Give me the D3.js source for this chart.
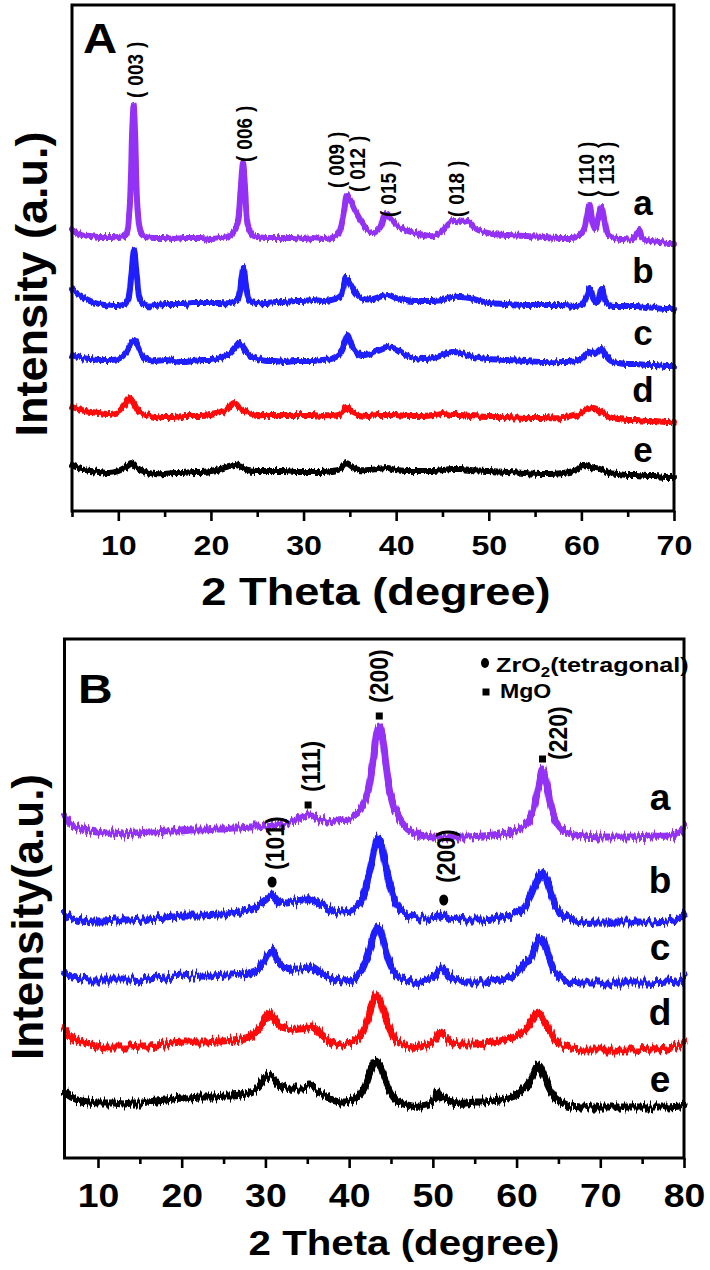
<!DOCTYPE html>
<html><head><meta charset="utf-8">
<script src="https://cdn.jsdelivr.net/npm/d3@7"></script>
<style>html,body{margin:0;padding:0;background:#fff}svg{display:block}</style>
</head><body><svg id="c" width="710" height="1270"></svg>
<script>
// ---------- Panel A data: [2theta, intensity (a.u.)] ----------
const A_a = [[5,281],[6,276],[7,275],[8,274],[9,274],[10,274],[10.8,276],[11.2,300],[11.5,380],[11.65,406],[11.8,380],[12.1,300],[12.5,277],[13,274],[14,273],[15,273],[16,272],[17,273],[18,273],[19,273],[20,272],[21,273],[22,275],[22.8,285],[23.2,320],[23.47,348],[23.7,320],[24,285],[24.5,276],[25,274],[26,273],[27,273],[28,273],[29,273],[30,272],[31,273],[32,272],[33,273],[33.8,278],[34.3,295],[34.7,316],[35.1,310],[35.6,300],[36.2,290],[36.8,282],[37.5,278],[38.3,284],[38.9,298],[39.5,292],[40.2,285],[41,281],[42,278],[43,276],[44,275],[45,280],[45.8,289],[46.5,290],[47.2,289],[47.8,290],[48.5,283],[49.5,279],[50.5,277],[52,276],[54,275],[56,274],[58,273],[59.5,274],[60.2,280],[60.6,296],[60.85,306],[61.2,290],[61.5,282],[61.8,292],[62.15,304],[62.5,290],[62.9,276],[63.5,273],[64.5,272],[65.5,272],[66,278],[66.25,281],[66.6,273],[67.5,270],[68.5,269],[69.5,268],[70,268]];
const A_b = [[5,221],[5.5,218],[6.5,212],[7.5,208],[8.5,206],[9.5,205],[10.5,206],[11,210],[11.4,235],[11.7,261],[12,235],[12.4,210],[13,206],[14,206],[15,207],[16,207],[17,207],[18,208],[19,208],[20,208],[21,208],[22,208],[22.9,212],[23.3,232],[23.5,243],[23.8,225],[24.2,210],[25,208],[26,208],[27,209],[28,209],[29,210],[30,210],[31,211],[32,210],[33,211],[34,215],[34.6,233],[35,228],[35.6,218],[36.5,212],[37.5,212],[38.5,215],[39.2,216],[40,213],[41,211],[42,210],[43,210],[44,210],[45,211],[46,214],[47,214],[48,213],[49,210],[50,208],[52,207],[54,206],[56,206],[58,206],[60,206],[60.6,215],[60.9,223],[61.3,212],[61.7,208],[62.2,223],[62.6,210],[63,206],[64,205],[65,205],[66,205],[67,204],[68,203],[69,202],[70,202]];
const A_c = [[5,156],[6,153],[7,152],[8,151],[9,151],[10,152],[10.8,158],[11.4,168],[11.7,171],[12.1,165],[12.6,155],[13.3,150],[14,150],[15,151],[16,150],[17,149],[18,150],[19,151],[20,151],[21,153],[22,157],[22.8,165],[23.1,168],[23.5,164],[24,157],[25,152],[26,150],[27,150],[28,149],[29,150],[30,150],[31,150],[32,151],[33,152],[34,158],[34.5,170],[34.75,176],[35.1,168],[35.6,160],[36.3,155],[37,156],[38,160],[39,163],[40,162],[41,156],[42,153],[43,152],[44,153],[45,156],[46,159],[47,158],[48,155],[49,153],[50,152],[52,151],[54,150],[56,149],[58,149],[59.5,150],[60.3,155],[60.8,160],[61.4,157],[62.1,163],[62.6,156],[63.2,150],[64,148],[65,147],[66,147],[67,146],[68,146],[69,145],[70,145]];
const A_d = [[5,104],[6,101],[7,99],[8,98],[9,97],[10,99],[10.6,105],[11.2,113],[11.7,107],[12.3,98],[13,96],[14,94],[15,94],[16,94],[17,95],[18,95],[19,95],[20,96],[21,98],[21.8,102],[22.5,108],[23.1,103],[23.8,99],[25,96],[26,96],[27,96],[28,96],[29,96],[30,96],[31,96],[32,95],[33,95],[34,97],[34.6,104],[35.2,99],[36,96],[37,95],[38,96],[39,96],[40,96],[41,95],[42,95],[43,95],[44,96],[45,98],[46,96],[47,96],[48,95],[50,94],[52,94],[54,93],[56,93],[58,93],[59.5,96],[60.5,101],[61.3,103],[62.2,99],[63,94],[64,92],[65,91],[66,91],[67,90],[68,90],[69,89],[70,89]];
const A_e = [[5,46],[6,42],[7,40],[8,39],[9,38],[10,40],[11,45],[11.4,48],[12,43],[13,39],[14,37],[15,37],[16,38],[17,38],[18,39],[19,39],[20,40],[21,42],[22,45],[22.6,46],[23.3,44],[24,41],[25,40],[26,40],[27,40],[28,40],[29,39],[30,39],[31,39],[32,39],[33,40],[34,42],[34.6,48],[35.3,44],[36,41],[37,41],[38,42],[39,43],[40,41],[41,40],[42,40],[43,40],[44,40],[45,41],[46,42],[47,42],[48,41],[50,40],[52,39],[54,38],[56,37],[58,38],[59.5,41],[60.2,46],[61,44],[62,42],[63,38],[64,37],[65,36],[66,36],[67,35],[68,35],[69,34],[70,34]];
const seriesNamesA = ["a","b","c","d","e"];
const peakLabelsA = ["003","006","009","012","015","018","110","113"];
const peakLabelXA = [11.9,23.6,33.6,35.8,39.2,46.5,60.6,62.7];
const peakLabelYA = [413,349,323,319,294,294,314,314];
const xTicksA = [10,20,30,40,50,60,70];
const xMinorA = [5,15,25,35,45,55,65];

// ---------- Panel B data ----------
const B_a = [[6,341],[7,332],[8,329],[9,327],[10,326],[11,325],[12,325],[13,324],[14,325],[15,325],[16,326],[17,326],[18,327],[19,327],[20,327],[21,328],[22,328],[23,328],[24,329],[25,329],[26,330],[27,330],[28,331],[29,331],[30,332],[31,333],[32,334],[33,336],[34,339],[35,343],[35.6,343],[36.5,338],[37.5,337],[38.5,338],[39.5,339],[40.5,342],[41.5,350],[42.3,370],[42.9,400],[43.3,425],[43.6,433],[43.9,425],[44.3,400],[44.8,370],[45.5,348],[46.5,333],[47.5,326],[48.5,323],[50,321],[52,321],[54,321],[56,322],[58,324],[59.5,326],[60.5,330],[61.5,337],[62.2,355],[62.7,375],[63.1,389],[63.5,378],[64,356],[64.7,337],[65.5,328],[66.5,324],[68,322],[70,321],[72,321],[74,321],[76,322],[78,322],[79.5,326],[80,331]];
const B_b = [[6,245],[7,240],[8,238],[9,237],[10,237],[11,237],[12,238],[13,238],[14,238],[15,239],[16,239],[17,240],[18,241],[19,242],[20,243],[21,243],[22,243],[23,243],[24,244],[25,244],[26,245],[27,246],[28,248],[29,252],[30,258],[30.8,263],[31.5,257],[32.5,255],[33.5,257],[34.5,258],[35.5,258],[36.5,255],[37.5,250],[38.5,246],[39.5,245],[40.5,248],[41.5,258],[42.3,280],[42.9,305],[43.4,320],[43.8,315],[44.3,295],[44.9,272],[45.6,255],[46.5,245],[47.5,241],[48.5,240],[49.5,240],[50.5,241],[51.3,243],[52,241],[53,239],[54,238],[55,238],[56,238],[57,239],[58,240],[59,242],[60,245],[61,252],[61.8,265],[62.5,280],[63,286],[63.5,280],[64.1,265],[64.8,250],[65.6,242],[66.5,238],[68,236],[70,236],[72,236],[74,236],[76,236],[78,237],[79.5,240],[80,244]];
const B_c = [[6,185],[7,181],[8,179],[9,178],[10,178],[11,178],[12,178],[13,178],[14,178],[15,178],[16,179],[17,180],[18,181],[19,182],[20,183],[21,182],[22,182],[23,182],[24,182],[25,183],[26,183],[27,184],[28,185],[29,188],[29.8,197],[30.4,206],[30.8,208],[31.3,200],[32,192],[33,189],[34,189],[35,190],[35.6,191],[36.5,186],[37.5,181],[38.5,178],[39.5,177],[40.5,179],[41.5,188],[42.3,205],[42.9,222],[43.4,231],[43.8,226],[44.3,210],[44.9,194],[45.6,183],[46.5,178],[47.5,176],[48.5,176],[49.5,178],[50.3,183],[51.1,190],[51.9,183],[52.8,178],[54,176],[55,176],[56,176],[57,177],[58,178],[59,180],[60,185],[61,195],[61.6,198],[62.2,210],[62.8,221],[63.3,216],[63.9,200],[64.6,186],[65.5,179],[66.5,176],[68,175],[70,175],[72,175],[74,175],[76,175],[78,176],[79.5,178],[80,181]];
const B_d = [[6,128],[7,120],[8,116],[9,113],[10,112],[11,111],[12,111],[13,111],[14,111],[15,112],[16,112],[17,113],[18,114],[19,115],[20,116],[21,116],[22,116],[23,116],[24,117],[25,117],[26,118],[27,119],[28,121],[29,127],[29.9,138],[30.5,145],[31.1,138],[32,131],[33,129],[34,129],[35,130],[35.6,131],[36.5,125],[37.5,118],[38.5,114],[39.5,113],[40.5,116],[41.5,124],[42.3,140],[42.8,155],[43.2,163],[43.7,157],[44.2,144],[44.9,128],[45.6,118],[46.5,113],[47.5,111],[48.5,111],[49.5,113],[50.3,118],[50.9,126],[51.6,120],[52.5,115],[54,114],[55,114],[56,115],[57,116],[58,117],[59,119],[60,122],[61,128],[61.8,137],[62.6,146],[63.2,140],[63.9,128],[64.7,117],[65.6,111],[66.5,109],[68,108],[70,108],[72,108],[74,108],[76,109],[78,110],[79.5,113],[80,115]];
const B_e = [[6,66],[7,60],[8,57],[9,56],[10,55],[11,55],[12,55],[13,54],[14,55],[15,55],[16,56],[17,57],[18,58],[19,59],[20,60],[21,60],[22,61],[23,61],[24,61],[25,62],[26,62],[27,63],[28,65],[29,70],[29.8,79],[30.3,83],[30.9,80],[31.6,74],[32.5,70],[33.5,70],[34.5,70],[35.3,71],[36,68],[37,63],[38,58],[39,56],[40,57],[41,61],[41.8,70],[42.5,86],[43.2,98],[43.7,92],[44.2,80],[44.9,66],[45.6,58],[46.5,54],[47.5,52],[48.5,52],[49.5,54],[50.3,60],[50.5,67],[50.8,60],[51.3,62],[52,57],[53,55],[54,55],[55,56],[56,56],[57,57],[58,58],[59,60],[60,63],[61,70],[61.8,80],[62.6,93],[63.2,84],[63.9,70],[64.6,60],[65.5,55],[66.5,52],[68,51],[70,51],[72,51],[74,51],[76,51],[78,51],[79.5,52],[80,53]];
const seriesNamesB = ["a","b","c","d","e"];
const peakLabelsB = ["(200)","(220)","(111)","(101)","(200)"];
const peakMarkB = ["sq","sq","sq","dot","dot"];
const peakMarkXB = [43.6,63.1,35.1,30.8,51.3];
const peakMarkYB = [442,399,353,276,258];
const peakLabelXB = [43.5,65.0,35.4,31.1,51.6];
const peakLabelYB = [455,398,366,288,275];
const legendB = ["ZrO|2|(tetragonal)","MgO"];
const xTicksB = [10,20,30,40,50,60,70,80];
const xMinorB = [15,25,35,45,55,65,75];

// ---------- drawing ----------
const svg = d3.select("#c");
const FONT = "'Liberation Sans', Arial, Helvetica, sans-serif";
const colorsA = ["#9332f5","#1e1eff","#1e1eff","#ff0a0a","#000000"];

const defs = svg.append("defs");
function noiseFilter(id, freq, scale, seed){
  const f = defs.append("filter").attr("id",id).attr("filterUnits","userSpaceOnUse")
    .attr("x",0).attr("y",0).attr("width",710).attr("height",1270)
    .attr("color-interpolation-filters","sRGB");
  f.append("feTurbulence").attr("type","fractalNoise").attr("baseFrequency",freq)
    .attr("numOctaves",2).attr("seed",seed).attr("result","t");
  const ct = f.append("feComponentTransfer").attr("in","t").attr("result","t2");
  ct.append("feFuncR").attr("type","linear").attr("slope",0).attr("intercept",0.5);
  f.append("feDisplacementMap").attr("in","SourceGraphic").attr("in2","t2")
    .attr("scale",scale).attr("xChannelSelector","R").attr("yChannelSelector","G");
}
noiseFilter("nA","0.45 0.03",7,4);
noiseFilter("nB","0.5 0.03",13,7);

function stxt(parent, x, y, s, size, sx, anchor, rot){
  const g = parent.append("g").attr("transform", `translate(${x},${y}) scale(${sx},1)` + (rot ? ` rotate(${rot})` : ""));
  return g.append("text").attr("font-family", FONT).attr("font-weight","bold")
    .attr("font-size", size).attr("text-anchor", anchor||"start").attr("fill","#000").text(s);
}

function panel(cfg){
  const {x, y, series, names, colors, lw, filt, ticks, minor, tickFont, tickSx, tickBase, letterX, letterBase, letterFont} = cfg;
  const g = svg.append("g");
  const line = d3.line().x(d=>x(d[0])).y(d=>y(d[1])).curve(d3.curveCatmullRom.alpha(0.5));
  const lg = g.append("g").attr("filter",`url(#${filt})`);
  series.forEach((s,i)=>{
    lg.append("path").datum(s).attr("d", line).attr("fill","none")
      .attr("stroke", colors[i]).attr("stroke-width", lw).attr("stroke-linejoin","round").attr("stroke-linecap","round");
  });
  const [x0,x1] = x.range(), [y0,y1] = y.range();
  const axMin = g.append("g").attr("transform",`translate(0,${y0})`)
    .call(d3.axisBottom(x).tickValues(minor).tickSize(6).tickFormat(""));
  const axMaj = g.append("g").attr("transform",`translate(0,${y0})`)
    .call(d3.axisBottom(x).tickValues(ticks).tickSize(10).tickFormat(d3.format("d")));
  [axMin, axMaj].forEach(a=>{
    a.select(".domain").remove();
    a.selectAll("line").attr("stroke","#000").attr("stroke-width",2.6);
  });
  axMaj.selectAll("text").attr("font-family",FONT).attr("font-weight","bold")
    .attr("font-size",tickFont).attr("fill","#000").attr("y",tickBase).attr("dy",0)
    .attr("transform",`scale(${tickSx},1)`);
  g.append("rect").attr("x",x0).attr("y",y1).attr("width",x1-x0).attr("height",y0-y1)
    .attr("fill","none").attr("stroke","#000").attr("stroke-width",3);
  names.forEach((n,i)=>{
    stxt(g, letterX, letterBase[i], n, letterFont, 1.0, "middle");
  });
  return g;
}

// Panel A
const xA = d3.scaleLinear().domain([5,70]).range([72,674]);
const yA = d3.scaleLinear().domain([0,506]).range([511,5]);
const gA = panel({x:xA, y:yA, series:[A_a,A_b,A_c,A_d,A_e], names:seriesNamesA, colors:colorsA, lw:6, filt:"nA",
  ticks:xTicksA, minor:xMinorA, tickFont:28, tickSx:1.15, tickBase:44, letterX:643,
  letterBase:[215,283,345,402,462], letterFont:35});
peakLabelsA.forEach((t,i)=>{
  const tx = stxt(gA, xA(peakLabelXA[i]), yA(peakLabelYA[i]), "", 19, 1.12, "start", -90)
    .attr("dominant-baseline","central");
  tx.append("tspan").text("(");
  tx.append("tspan").attr("dx",6).text(t);
  tx.append("tspan").attr("dx",6).text(")");
});
stxt(gA, 83, 53, "A", 43, 1.1, "start");
stxt(gA, 376, 605, "2 Theta (degree)", 39, 1.16, "middle");
stxt(gA, 47, 284, "Intensity (a.u.)", 45, 1.0, "middle", -90);

// Panel B
const xB = d3.scaleLinear().domain([6,80]).range([64.5,684]);
const yB = d3.scaleLinear().domain([0,519]).range([1158,639]);
const gB = panel({x:xB, y:yB, series:[B_a,B_b,B_c,B_d,B_e], names:seriesNamesB, colors:colorsA, lw:7, filt:"nB",
  ticks:xTicksB, minor:xMinorB, tickFont:34, tickSx:1.1, tickBase:49, letterX:660,
  letterBase:[810,893,960,1025,1092], letterFont:37});
peakLabelsB.forEach((t,i)=>{
  const mx = xB(peakMarkXB[i]), my = yB(peakMarkYB[i]);
  if(peakMarkB[i]==="sq") gB.append("rect").attr("x",mx-3.5).attr("y",my-3.5).attr("width",7).attr("height",7).attr("fill","#000");
  else gB.append("ellipse").attr("cx",mx).attr("cy",my).attr("rx",4.5).attr("ry",5.5).attr("fill","#000");
  stxt(gB, xB(peakLabelXB[i]), yB(peakLabelYB[i]), t, 23, 1.15, "start", -90).attr("dominant-baseline","central");
});
gB.append("ellipse").attr("cx",485).attr("cy",663).attr("rx",4).attr("ry",5).attr("fill","#000");
const parts = legendB[0].split("|");
const lt = stxt(gB, 496, 672, "", 21, 1.2, "start");
lt.append("tspan").text(parts[0]);
lt.append("tspan").attr("font-size",14).attr("dy",5).text(parts[1]);
lt.append("tspan").attr("dy",-5).text(parts[2]);
gB.append("rect").attr("x",482.5).attr("y",688.5).attr("width",7).attr("height",7).attr("fill","#000");
stxt(gB, 500, 698, legendB[1], 21, 1.1, "start");
stxt(gB, 78, 703, "B", 40, 1.2, "start");
stxt(gB, 404, 1255, "2 Theta (degree)", 35, 1.15, "middle");
stxt(gB, 43, 917, "Intensity(a.u.)", 44, 1.0, "middle", -90);
</script></body></html>
